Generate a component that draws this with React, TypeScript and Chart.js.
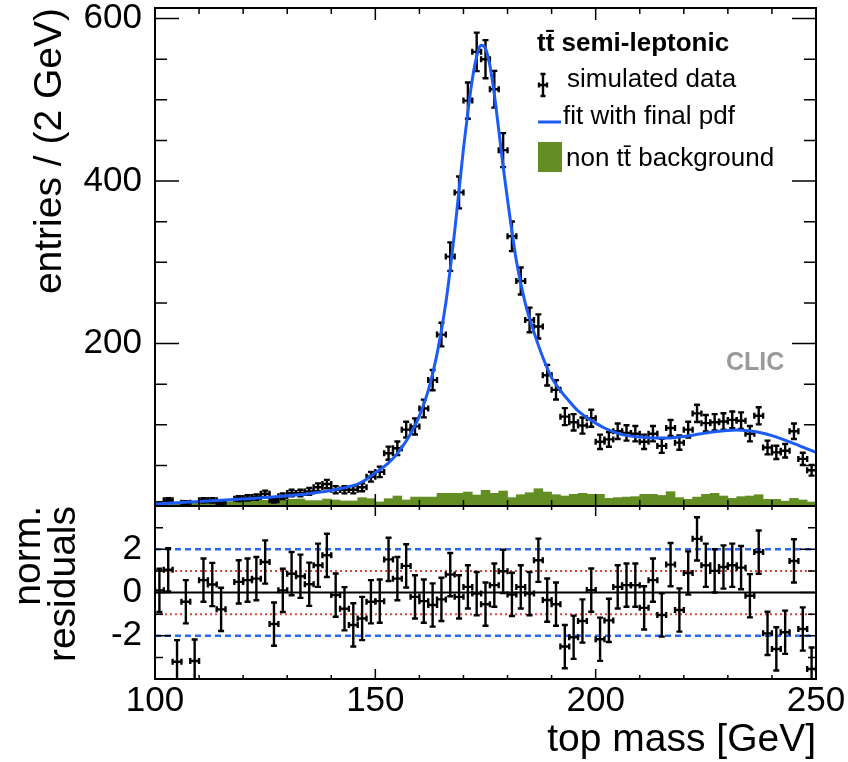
import React, { useEffect, useRef } from 'react';
import { Chart, registerables } from 'chart.js';

Chart.register(...registerables);

const FONT = '"Liberation Sans", Arial, Helvetica, sans-serif';

// bin centres (2 GeV bins from 100 to 250 GeV)
const massBins = [
  101, 103, 105, 107, 109, 111, 113, 115, 117, 119, 121, 123, 125, 127, 129,
  131, 133, 135, 137, 139, 141, 143, 145, 147, 149, 151, 153, 155, 157, 159,
  161, 163, 165, 167, 169, 171, 173, 175, 177, 179, 181, 183, 185, 187, 189,
  191, 193, 195, 197, 199, 201, 203, 205, 207, 209, 211, 213, 215, 217, 219,
  221, 223, 225, 227, 229, 231, 233, 235, 237, 239, 241, 243, 245, 247, 249,
];

// simulated data entries per bin (null = empty bin)
const simulatedData = [
  3, 7, null, 4, null, 7, 7, 5, null, 9, 10, 11, 15, 7, 12,
  16, 16, 18, 23, 27, 20, 20, 20, 23, 36, 42, 65, 71, 94, 98,
  120, 155, 211, 307, 386, 499, 559, 550, 513, 438, 332, 277, 229, 221, 161,
  143, 110, 103, 99, 108, 79, 82, 92, 90, 89, 79, 89, 74, 96, 78,
  94, 114, 102, 103, 104, 106, 105, 89, 111, 72, 66, 68, 92, 58, 44,
];

// non-ttbar background per bin
const backgroundNonTT = [
  3.7, 3.7, 4.5, 4.5, 5, 6.6, 6.6, 5.3, 5.3, 6.6, 6.6, 6.6, 7, 7, 7,
  8.2, 8.6, 6.6, 6.6, 8.6, 7.4, 6.2, 6.2, 10.3, 9, 5, 9, 12.3, 7.4, 11,
  11, 11, 15.6, 15.6, 15.6, 17.2, 13.5, 19.3, 15.6, 18.5, 10.3, 13.9, 16.4, 21.3, 17.2,
  13.9, 12.3, 14.4, 15.6, 14.4, 14.4, 9.4, 10.3, 11, 11.5, 14.4, 14.4, 13, 17.6, 10.3,
  8.2, 11, 14.4, 15.6, 12.3, 9.4, 11.5, 12.3, 13.9, 8.2, 8.2, 6, 9.4, 7.4, 4.9,
];

// normalised residuals per bin (null = not shown)
const normResiduals = [
  0.1, 1.05, -3.2, -0.43, -3.17, 0.57, 0.37, -0.78, null, 0.49, 0.57, 0.64, 1.41, -1.46, 0.1,
  0.87, 0.75, 0.38, 1.26, 1.72, -0.12, -0.75, -1.5, -1.2, -0.43, -0.4, 1.53, 0.64, 1.23, -0.2,
  -0.4, -0.58, -0.32, 0.83, -0.2, 0.26, -0.05, -0.54, 0.34, 0.98, -0.09, 0.26, -0.05, 1.49, -0.35,
  -0.54, -2.5, -2.07, -1.32, 0.11, -2.16, -1.29, 0.26, 0.34, 0.34, -0.71, 0.57, -1.04, 1.29, -0.81,
  0.9, 2.48, 1.26, 1.0, 1.18, 1.26, 1.15, -0.15, 1.87, -1.89, -2.61, -1.84, 1.46, -1.69, -3.54,
];

// fit with final pdf
const fitMass = [
  100, 102, 104, 106, 108, 110, 112, 114, 116, 118, 120, 122, 124, 126, 128, 130,
  132, 134, 136, 138, 140, 142, 144, 146, 148, 150, 152, 154, 156, 158, 160, 162,
  164, 166, 168, 170, 171, 172, 173, 174, 175, 176, 177, 178, 179, 180, 182, 184,
  186, 188, 190, 192, 194, 196, 198, 200, 202, 204, 206, 208, 210, 212, 214, 216,
  218, 220, 222, 224, 226, 228, 230, 232, 234, 236, 238, 240, 242, 244, 246, 248, 250,
];
const fitPdf = [
  2.6, 3.2, 3.8, 4.4, 5.0, 5.6, 6.2, 6.8, 7.4, 8.0, 8.6, 9.3, 10.0, 10.8, 11.6, 12.5,
  13.5, 14.6, 15.9, 17.4, 19.2, 21.3, 23.8, 27, 33, 41, 48.5, 58.5, 72, 89, 111, 142,
  187, 250, 338, 440, 485, 525, 553, 567, 563, 542, 507, 463, 418, 377, 302, 250,
  214, 183, 158, 142, 129, 117, 109, 102, 96, 91.5, 88, 86, 84.8, 84, 83.6, 83.7,
  84.4, 85.6, 87.2, 89, 90.7, 92, 93, 93.4, 93, 91.8, 89.6, 86.6, 83, 79, 74.7, 70.3, 66,
];

const entriesTicks = [200, 400, 600];
const residualTicks = [-2, 0, 2];
const massTicks = [100, 150, 200, 250];
const sigmaLevels = [-2, -1, 0, 1, 2];

const BLUE = '#1c5cf5';
const GREEN = '#628e23';

type TickCfg = {
  xMajor: number; xMinor: number; xMajorLen: number; xMinorLen: number;
  yMajor: number; yMinor: number; yMajorLen: number; yMinorLen: number;
};

const isMult = (v: number, step: number) => {
  const r = Math.abs(v / step - Math.round(v / step));
  return r < 1e-6;
};

const framePlugin = {
  id: 'frameTicks',
  afterDraw(chart: any) {
    const cfg: TickCfg = chart.options.plugins.frameTicks;
    const { ctx, chartArea: a, scales } = chart;
    const x = scales.x;
    const y = scales.y;
    ctx.save();
    ctx.strokeStyle = '#000';
    ctx.lineWidth = 1.5;
    ctx.beginPath();
    const nx = Math.round((x.max - x.min) / cfg.xMinor);
    for (let i = 0; i <= nx; i++) {
      const v = x.min + i * cfg.xMinor;
      const len = isMult(v, cfg.xMajor) ? cfg.xMajorLen : cfg.xMinorLen;
      const px = x.getPixelForValue(v);
      ctx.moveTo(px, a.bottom);
      ctx.lineTo(px, a.bottom - len);
      ctx.moveTo(px, a.top);
      ctx.lineTo(px, a.top + len);
    }
    const y0 = Math.ceil(y.min / cfg.yMinor) * cfg.yMinor;
    const ny = Math.floor((y.max - y0) / cfg.yMinor + 1e-6);
    for (let i = 0; i <= ny; i++) {
      const v = y0 + i * cfg.yMinor;
      const len = isMult(v, cfg.yMajor) ? cfg.yMajorLen : cfg.yMinorLen;
      const py = y.getPixelForValue(v);
      ctx.moveTo(a.left, py);
      ctx.lineTo(a.left + len, py);
      ctx.moveTo(a.right, py);
      ctx.lineTo(a.right - len, py);
    }
    ctx.stroke();
    ctx.lineWidth = 2;
    ctx.strokeRect(a.left, a.top, a.right - a.left, a.bottom - a.top);
    ctx.restore();
  },
};

function drawCross(ctx: CanvasRenderingContext2D, cx: number, cy: number,
  x1: number, x2: number, y1: number, y2: number, cap: number) {
  ctx.beginPath();
  ctx.moveTo(x1, cy); ctx.lineTo(x2, cy);
  ctx.moveTo(cx, y1); ctx.lineTo(cx, y2);
  ctx.moveTo(x1, cy - cap); ctx.lineTo(x1, cy + cap);
  ctx.moveTo(x2, cy - cap); ctx.lineTo(x2, cy + cap);
  ctx.moveTo(cx - cap, y1); ctx.lineTo(cx + cap, y1);
  ctx.moveTo(cx - cap, y2); ctx.lineTo(cx + cap, y2);
  ctx.stroke();
}

// draws error crosses for the dataset flagged errorCross
const crossPlugin = {
  id: 'errorCrosses',
  afterDatasetDraw(chart: any, args: any) {
    const ds = chart.data.datasets[args.index];
    if (!ds.errorCross) return;
    const { ctx, chartArea: a, scales: { x, y } } = chart;
    ctx.save();
    ctx.beginPath();
    ctx.rect(a.left, a.top, a.right - a.left, a.bottom - a.top);
    ctx.clip();
    ctx.strokeStyle = '#000';
    ctx.lineWidth = 2.4;
    ds.data.forEach((p: any) => {
      if (p.y === null || p.y === undefined) return;
      const err = ds.errorCross === 'poisson' ? Math.sqrt(p.y) : 1;
      drawCross(ctx,
        x.getPixelForValue(p.x), y.getPixelForValue(p.y),
        x.getPixelForValue(p.x - 1), x.getPixelForValue(p.x + 1),
        y.getPixelForValue(p.y + err), y.getPixelForValue(p.y - err), 3);
    });
    ctx.restore();
  },
};

const legendPlugin = {
  id: 'ttLegend',
  afterDraw(chart: any) {
    const { ctx } = chart;
    ctx.save();
    ctx.fillStyle = '#000';
    ctx.textBaseline = 'alphabetic';
    ctx.textAlign = 'left';
    ctx.font = `bold 26px ${FONT}`;
    ctx.fillText('tt\u0304 semi-leptonic', 537, 51);
    ctx.font = `26px ${FONT}`;
    ctx.fillText('simulated data', 567, 87);
    ctx.fillText('fit with final pdf', 563, 124);
    ctx.fillText('non tt\u0304 background', 566, 166);
    // markers
    ctx.strokeStyle = '#000';
    ctx.lineWidth = 2.4;
    drawCross(ctx, 543, 85, 539, 547, 74, 96, 2.5);
    ctx.strokeStyle = BLUE;
    ctx.lineWidth = 3;
    ctx.beginPath();
    ctx.moveTo(538, 122);
    ctx.lineTo(561, 122);
    ctx.stroke();
    ctx.fillStyle = GREEN;
    ctx.fillRect(538, 142, 24, 30);
    // CLIC label
    ctx.fillStyle = '#9a9a9a';
    ctx.font = `bold 25px ${FONT}`;
    ctx.fillText('CLIC', 726, 370);
    ctx.restore();
  },
};

const tickFont = { family: FONT, size: 35, lineHeight: 1 };
const titleFont = { family: FONT, size: 39, lineHeight: 1 };

const fixWidth = (w: number) => (s: any) => {
  s.width = w;
  s.paddingTop = 0;
  s.paddingBottom = 0;
  s.paddingLeft = 0;
  s.paddingRight = 0;
};
const fixHeight = (h: number) => (s: any) => {
  s.height = h;
  s.paddingTop = 0;
  s.paddingBottom = 0;
  s.paddingLeft = 0;
  s.paddingRight = 0;
};

function topConfig(): any {
  return {
    type: 'bar',
    data: {
      datasets: [
        {
          type: 'line',
          label: 'fit with final pdf',
          data: fitMass.map((m, i) => ({ x: m, y: fitPdf[i] })),
          borderColor: BLUE,
          borderWidth: 3,
          pointRadius: 0,
          cubicInterpolationMode: 'monotone',
          fill: false,
          order: 1,
        },
        {
          type: 'line',
          label: 'simulated data',
          data: massBins.map((m, i) => ({ x: m, y: simulatedData[i] })),
          showLine: false,
          pointRadius: 0,
          errorCross: 'poisson',
          order: 2,
        },
        {
          type: 'bar',
          label: 'non tt background',
          data: massBins.map((m, i) => ({ x: m, y: backgroundNonTT[i] })),
          backgroundColor: GREEN,
          borderWidth: 0,
          barPercentage: 1,
          categoryPercentage: 1,
          order: 3,
        },
      ],
    },
    options: {
      responsive: false,
      animation: false,
      events: [],
      devicePixelRatio: 1,
      layout: { padding: { top: 8, right: 32, bottom: 14, left: 0 } },
      scales: {
        x: {
          type: 'linear',
          min: 100,
          max: 250,
          offset: false,
          display: false,
        },
        y: {
          type: 'linear',
          min: 0,
          max: 613,
          afterBuildTicks: (s: any) => { s.ticks = entriesTicks.map((v) => ({ value: v })); },
          afterFit: fixWidth(155),
          grid: { display: false, drawTicks: false },
          border: { display: false },
          ticks: {
            color: '#000',
            font: tickFont,
            padding: 13,
            callback: (v: any) => String(v),
          },
          title: {
            display: true,
            text: 'entries / (2 GeV)',
            align: 'end',
            color: '#000',
            font: titleFont,
            padding: { top: 31, bottom: 0 },
          },
        },
      },
      plugins: {
        legend: { display: false },
        tooltip: { enabled: false },
        frameTicks: {
          xMajor: 50, xMinor: 10, xMajorLen: 12, xMinorLen: 6,
          yMajor: 200, yMinor: 50, yMajorLen: 24, yMinorLen: 12,
        },
      },
    },
    plugins: [crossPlugin, framePlugin, legendPlugin],
  };
}

function levelStyle(l: number) {
  if (l === 0) return { borderColor: '#000', borderWidth: 2, borderDash: [] };
  if (Math.abs(l) === 1) return { borderColor: '#d9453d', borderWidth: 2, borderDash: [2, 3] };
  return { borderColor: '#2a68f5', borderWidth: 2.5, borderDash: [6, 4] };
}

function bottomConfig(): any {
  return {
    type: 'line',
    data: {
      datasets: [
        {
          label: 'residuals',
          data: massBins.map((m, i) => ({ x: m, y: normResiduals[i] })),
          showLine: false,
          pointRadius: 0,
          errorCross: 'unit',
          order: 1,
        },
        ...sigmaLevels.map((l) => ({
          label: `level ${l}`,
          data: [{ x: 100, y: l }, { x: 250, y: l }],
          pointRadius: 0,
          fill: false,
          order: 2,
          ...levelStyle(l),
        })),
      ],
    },
    options: {
      responsive: false,
      animation: false,
      events: [],
      devicePixelRatio: 1,
      layout: { padding: { top: 6, right: 32, bottom: 0, left: 0 } },
      scales: {
        x: {
          type: 'linear',
          min: 100,
          max: 250,
          offset: false,
          afterBuildTicks: (s: any) => { s.ticks = massTicks.map((v) => ({ value: v })); },
          afterFit: fixHeight(83),
          grid: { display: false, drawTicks: false },
          border: { display: false },
          ticks: {
            color: '#000',
            font: tickFont,
            padding: 5,
            maxRotation: 0,
            autoSkip: false,
            callback: (v: any) => String(v),
          },
          title: {
            display: true,
            text: 'top mass [GeV]',
            align: 'end',
            color: '#000',
            font: titleFont,
            padding: { top: 0, bottom: 2 },
          },
        },
        y: {
          type: 'linear',
          min: -4,
          max: 4,
          afterBuildTicks: (s: any) => { s.ticks = residualTicks.map((v) => ({ value: v })); },
          afterFit: fixWidth(155),
          grid: { display: false, drawTicks: false },
          border: { display: false },
          ticks: {
            color: '#000',
            font: tickFont,
            padding: 13,
            callback: (v: any) => String(v),
          },
          title: {
            display: true,
            text: ['norm.', 'residuals'],
            align: 'end',
            color: '#000',
            font: { family: FONT, size: 39, lineHeight: 0.9 },
            padding: { top: 12, bottom: 0 },
          },
        },
      },
      plugins: {
        legend: { display: false },
        tooltip: { enabled: false },
        frameTicks: {
          xMajor: 50, xMinor: 10, xMajorLen: 10, xMinorLen: 4,
          yMajor: 2, yMinor: 1, yMajorLen: 16, yMinorLen: 8,
        },
      },
    },
    plugins: [crossPlugin, framePlugin],
  };
}

export default function App() {
  const topRef = useRef<HTMLCanvasElement>(null);
  const botRef = useRef<HTMLCanvasElement>(null);
  useEffect(() => {
    const top = new Chart(topRef.current as HTMLCanvasElement, topConfig());
    const bot = new Chart(botRef.current as HTMLCanvasElement, bottomConfig());
    return () => {
      top.destroy();
      bot.destroy();
    };
  }, []);
  return (
    <div style={{ position: 'absolute', left: 0, top: 0, width: 848, height: 762, background: '#fff' }}>
      <canvas ref={topRef} width={848} height={520} style={{ position: 'absolute', left: 0, top: 0 }} />
      <canvas ref={botRef} width={848} height={262} style={{ position: 'absolute', left: 0, top: 500 }} />
    </div>
  );
}
